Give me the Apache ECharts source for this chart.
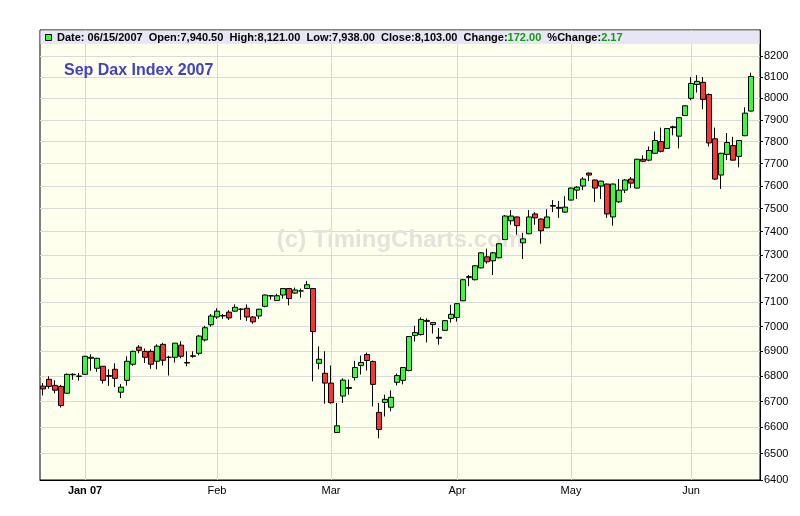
<!DOCTYPE html>
<html><head><meta charset="utf-8">
<script src="https://cdn.jsdelivr.net/npm/echarts@6/dist/echarts.min.js"></script>
<style>html,body{margin:0;padding:0;background:#fff}#c{width:800px;height:516px}</style>
</head><body><div id="c"></div>
<script>
const dates = [
'12/19/2006','12/20/2006','12/21/2006','12/22/2006','12/27/2006','12/28/2006','12/29/2006',
'01/02/2007','01/03/2007','01/04/2007','01/05/2007','01/08/2007','01/09/2007','01/10/2007','01/11/2007','01/12/2007',
'01/15/2007','01/16/2007','01/17/2007','01/18/2007','01/19/2007','01/22/2007','01/23/2007','01/24/2007','01/25/2007',
'01/26/2007','01/29/2007','01/30/2007','01/31/2007',
'02/01/2007','02/02/2007','02/05/2007','02/06/2007','02/07/2007','02/08/2007','02/09/2007','02/12/2007','02/13/2007',
'02/14/2007','02/15/2007','02/16/2007','02/20/2007','02/21/2007','02/22/2007','02/23/2007','02/26/2007','02/27/2007','02/28/2007',
'03/01/2007','03/02/2007','03/05/2007','03/06/2007','03/07/2007','03/08/2007','03/09/2007','03/12/2007','03/13/2007',
'03/14/2007','03/15/2007','03/16/2007','03/19/2007','03/20/2007','03/21/2007','03/22/2007','03/23/2007','03/26/2007',
'03/27/2007','03/28/2007','03/29/2007',
'04/02/2007','04/03/2007','04/04/2007','04/05/2007','04/10/2007','04/11/2007','04/12/2007','04/13/2007','04/16/2007',
'04/17/2007','04/18/2007','04/19/2007','04/20/2007','04/23/2007','04/24/2007','04/25/2007','04/26/2007','04/27/2007','04/30/2007',
'05/02/2007','05/03/2007','05/04/2007','05/07/2007','05/08/2007','05/09/2007','05/10/2007','05/11/2007','05/14/2007',
'05/15/2007','05/16/2007','05/18/2007','05/21/2007','05/22/2007','05/23/2007','05/24/2007','05/25/2007','05/29/2007',
'05/30/2007','05/31/2007',
'06/01/2007','06/04/2007','06/05/2007','06/06/2007','06/07/2007','06/08/2007','06/11/2007','06/12/2007','06/13/2007',
'06/14/2007','06/15/2007'
];
const opens = [
6761,6788,6764,6760,6733,6806,6801,
6808,6872,6832,6840,6803,6828,6737,6784,6848,6917,6900,6900,6860,6928,6876,6876,6925,6855,6882,6892,6946,7008,
7040,7046,7060,7064,7072,7076,7040,7044,7084,7128,7108,7131,7158,7139,7148,7158,7158,6852,6812,
6773,6580,6722,6756,6795,6843,6887,6859,6658,6697,6678,6776,6784,6823,6964,6968,7026,7009,6957,6985,7034,
7038,7107,7205,7195,7245,7292,7275,7288,7366,7447,7464,7352,7391,7477,7455,7417,7511,7506,7485,
7538,7582,7600,7658,7627,7600,7609,7464,7530,7582,7631,7591,7720,7716,7747,7800,7769,7868,7825,7920,
8000,8065,8075,8018,7813,7649,7742,7782,7733,7827,7940.5
];
const closes = [
6750,6760,6745,6685,6808,6808,6800,
6880,6876,6872,6784,6800,6792,6757,6860,6900,6904,6876,6848,6921,6864,6876,6933,6880,6853,6880,6962,6996,7044,
7064,7044,7036,7080,7072,7040,7020,7072,7131,7127,7128,7158,7116,7152,7148,7174,6980,6868,6773,
6696,6606,6785,6752,6835,6855,6863,6768,6592,6709,6717,6803,6835,6960,6976,7030,7022,7017,6953,7025,7051,
7095,7195,7208,7254,7309,7271,7309,7348,7468,7468,7426,7369,7464,7460,7404,7464,7514,7502,7507,
7591,7595,7631,7649,7591,7622,7477,7609,7582,7627,7613,7720,7711,7760,7805,7756,7860,7864,7910,7965,
8070,8080,7995,7794,7631,7747,7796,7716,7805,7931,8103
];
const lows = [
6724,6751,6733,6677,6732,6786,6783,
6806,6822,6818,6771,6762,6757,6714,6763,6842,6892,6853,6830,6828,6843,6803,6855,6872,6840,6874,6884,6940,7000,
7032,7032,7028,7060,7028,7024,7012,7032,7080,7112,7106,7116,7088,7136,7120,7156,6780,6828,6692,
6692,6578,6695,6727,6783,6807,6823,6681,6558,6642,6662,6764,6768,6820,6940,6964,6936,6972,6927,6983,7017,
7021,7105,7168,7192,7243,7263,7215,7285,7364,7430,7387,7283,7389,7430,7348,7415,7485,7460,7483,
7536,7543,7582,7622,7530,7543,7460,7426,7525,7569,7591,7589,7707,7711,7745,7751,7767,7829,7769,7918,
7991,8027,7949,7778,7627,7587,7716,7714,7684,7825,7938
];
const highs = [
6773,6800,6784,6766,6811,6812,6813,
6882,6888,6874,6841,6828,6852,6769,6880,6903,6925,6912,6908,6928,6934,6882,6934,6941,6900,6900,6966,7004,7052,
7076,7052,7068,7092,7076,7092,7044,7074,7133,7130,7136,7160,7160,7162,7158,7190,7160,6920,6900,
6843,6695,6792,6787,6862,6883,6895,6863,6695,6727,6744,6811,6837,6962,7004,7038,7034,7019,6995,7027,7090,
7097,7197,7215,7256,7311,7327,7313,7350,7472,7494,7466,7395,7494,7485,7457,7498,7538,7534,7555,
7593,7600,7640,7660,7629,7624,7611,7611,7631,7631,7640,7722,7738,7778,7846,7864,7862,7873,7912,7967,
8100,8109,8100,8023,7864,7749,7839,7822,7807,7958,8121
];
const yTicks = [6400,6500,6600,6700,6800,6900,7000,7100,7200,7300,7400,7500,7600,7700,7800,7900,8000,8100,8200];
const monthLabels = ['Jan 07','Feb','Mar','Apr','May','Jun'];
const titleText = 'Sep Dax Index 2007';
const watermark = '(c) TimingCharts.com';

// month starts derived from dates
const monthStarts = [];
for (let i = 1; i < dates.length; i++) {
  if (dates[i].slice(0,2) !== dates[i-1].slice(0,2)) monthStarts.push(i);
}
const cats = dates.concat(['']);
const candle = dates.map((d,i)=>[opens[i],closes[i],lows[i],highs[i]]).concat(['-']);

const n = dates.length - 1;
const fmt = v => v.toLocaleString('en-US',{minimumFractionDigits:2,maximumFractionDigits:2});
const chg = closes[n] - closes[n-1];
const pct = chg / closes[n-1] * 100;
const headerRich = '{k|Date: ' + dates[n] + '  Open:' + fmt(opens[n]) + '  High:' + fmt(highs[n]) +
  '  Low:' + fmt(lows[n]) + '  Close:' + fmt(closes[n]) + '  Change:}{g|' + fmt(chg) + '}{k|  %Change:}{g|' + pct.toFixed(2) + '}';

const FONT = 'Liberation Sans, Arial, sans-serif';
const chart = echarts.init(document.getElementById('c'), null, {renderer:'canvas'});
chart.setOption({
  animation: false,
  backgroundColor: '#ffffff',
  grid: {left: 40, right: 40, top: 30, bottom: 36, show: true, backgroundColor: '#ffffee', borderColor: '#000', borderWidth: 1},
  xAxis: {
    type: 'category', data: cats, boundaryGap: true,
    axisLine: {lineStyle: {color: '#000', width: 1}},
    axisTick: {show: false},
    axisLabel: {
      interval: (i) => monthStarts.indexOf(i) >= 0,
      formatter: (v, i) => { const k = monthStarts.indexOf(i); if (k < 0) return ''; return k === 0 ? '{b|' + monthLabels[k] + '}' : monthLabels[k]; },
      color: '#000', fontSize: 11, fontFamily: FONT, margin: 5,
      rich: {b: {fontWeight: 'bold', fontSize: 11, fontFamily: FONT, color: '#000'}}
    },
    splitLine: {show: true, alignWithLabel: true, interval: (i) => monthStarts.indexOf(i) >= 0, lineStyle: {color: '#d9d9d9', width: 1}}
  },
  yAxis: {
    type: 'log', logBase: 10, min: 6400, max: 8326, position: 'right',
    axisLine: {show: true, lineStyle: {color: '#000'}},
    axisTick: {show: true, length: 3, inside: false, customValues: yTicks, lineStyle: {color: '#000'}},
    axisLabel: {customValues: yTicks, color: '#000', fontSize: 11, fontFamily: FONT, margin: 4, formatter: v => String(Math.round(v))},
    splitLine: {show: true, lineStyle: {color: '#d9d9d9', width: 1}},
    minorTick: {show: false}, minorSplitLine: {show: false}
  },
  graphic: [
    {type: 'text', left: 'center', top: 228, z: 1, silent: true,
     style: {text: watermark, fill: '#e3e3dc', font: 'bold 24px ' + FONT}},
    {type: 'rect', z: 50, shape: {x: 40.5, y: 30.5, width: 719, height: 13.5}, style: {fill: '#e6e6f5'}},
    {type: 'rect', z: 51, shape: {x: 45.5, y: 34.5, width: 6, height: 6}, style: {fill: '#33ff33', stroke: '#000', lineWidth: 1}},
    {type: 'text', z: 51, x: 57, y: 38,
     style: {text: headerRich, verticalAlign: 'middle', rich: {
       k: {fontFamily: FONT, fontSize: 11, fontWeight: 'bold', fill: '#000'},
       g: {fontFamily: FONT, fontSize: 11, fontWeight: 'bold', fill: '#119911'}}}},
    {type: 'text', z: 51, x: 64, y: 71,
     style: {text: titleText, verticalAlign: 'middle', fill: '#4141c6', font: 'bold 16px ' + FONT}}
  ],
  series: [{
    type: 'candlestick', data: candle, barWidth: 5,
    itemStyle: {color: '#33ff33', color0: '#ff3333', borderColor: '#000', borderColor0: '#000', borderColorDoji: '#000', borderWidth: 1}
  }]
});
</script></body></html>
